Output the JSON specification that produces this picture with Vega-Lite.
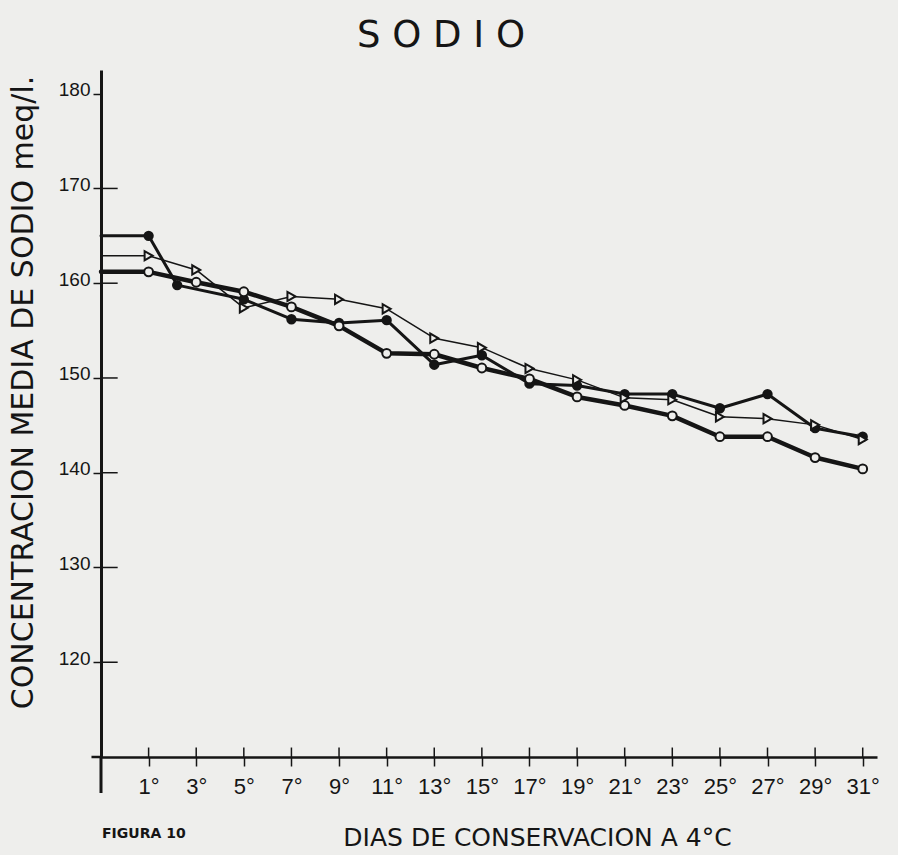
{
  "$schema": "https://vega.github.io/schema/vega-lite/v6.json",
  "width": 776,
  "height": 687,
  "autosize": {"type": "none"},
  "padding": {"left": 101, "top": 70, "right": 21, "bottom": 98},
  "background": "#eeeeec",
  "title": {"text": "S O D I O", "fontSize": 37, "font": "DejaVu Sans", "fontWeight": "normal", "color": "#151515", "anchor": "middle", "frame": "group", "dx": -48, "offset": 15},
  "config": {
    "view": {"stroke": null},
    "axis": {"grid": false, "domainColor": "#151515", "tickColor": "#151515", "labelColor": "#151515", "titleColor": "#151515", "labelOverlap": false}
  },
  "datasets": {
    "series": [
      {"serie": "A", "day": -1, "value": 165},
      {"serie": "A", "day": 1, "value": 165},
      {"serie": "A", "day": 2.2, "value": 159.8},
      {"serie": "A", "day": 5, "value": 158.3},
      {"serie": "A", "day": 7, "value": 156.2},
      {"serie": "A", "day": 9, "value": 155.8},
      {"serie": "A", "day": 11, "value": 156.1},
      {"serie": "A", "day": 13, "value": 151.4},
      {"serie": "A", "day": 15, "value": 152.4},
      {"serie": "A", "day": 17, "value": 149.4},
      {"serie": "A", "day": 19, "value": 149.2},
      {"serie": "A", "day": 21, "value": 148.3},
      {"serie": "A", "day": 23, "value": 148.3},
      {"serie": "A", "day": 25, "value": 146.8},
      {"serie": "A", "day": 27, "value": 148.3},
      {"serie": "A", "day": 29, "value": 144.7},
      {"serie": "A", "day": 31, "value": 143.8},
      {"serie": "B", "day": -1, "value": 161.2},
      {"serie": "B", "day": 1, "value": 161.2},
      {"serie": "B", "day": 3, "value": 160.1},
      {"serie": "B", "day": 5, "value": 159.1},
      {"serie": "B", "day": 7, "value": 157.5},
      {"serie": "B", "day": 9, "value": 155.5},
      {"serie": "B", "day": 11, "value": 152.6},
      {"serie": "B", "day": 13, "value": 152.5},
      {"serie": "B", "day": 15, "value": 151.05},
      {"serie": "B", "day": 17, "value": 149.9},
      {"serie": "B", "day": 19, "value": 148.0},
      {"serie": "B", "day": 21, "value": 147.1},
      {"serie": "B", "day": 23, "value": 146.0},
      {"serie": "B", "day": 25, "value": 143.8},
      {"serie": "B", "day": 27, "value": 143.8},
      {"serie": "B", "day": 29, "value": 141.6},
      {"serie": "B", "day": 31, "value": 140.4},
      {"serie": "C", "day": -1, "value": 162.9},
      {"serie": "C", "day": 1, "value": 162.9},
      {"serie": "C", "day": 3, "value": 161.4},
      {"serie": "C", "day": 5, "value": 157.4},
      {"serie": "C", "day": 7, "value": 158.6},
      {"serie": "C", "day": 9, "value": 158.3},
      {"serie": "C", "day": 11, "value": 157.3},
      {"serie": "C", "day": 13, "value": 154.2},
      {"serie": "C", "day": 15, "value": 153.2},
      {"serie": "C", "day": 17, "value": 151.0},
      {"serie": "C", "day": 19, "value": 149.8},
      {"serie": "C", "day": 21, "value": 147.9},
      {"serie": "C", "day": 23, "value": 147.7},
      {"serie": "C", "day": 25, "value": 145.9},
      {"serie": "C", "day": 27, "value": 145.7},
      {"serie": "C", "day": 29, "value": 145.05},
      {"serie": "C", "day": 31, "value": 143.5}
    ],
    "xticks": [
      {"day": 1}, {"day": 3}, {"day": 5}, {"day": 7}, {"day": 9}, {"day": 11}, {"day": 13}, {"day": 15},
      {"day": 17}, {"day": 19}, {"day": 21}, {"day": 23}, {"day": 25}, {"day": 27}, {"day": 29}, {"day": 31}
    ],
    "yticks": [
      {"value": 120}, {"value": 130}, {"value": 140}, {"value": 150}, {"value": 160}, {"value": 170}
    ]
  },
  "layer": [
    {
      "data": {"name": "series"},
      "transform": [{"filter": "datum.serie === 'C'"}],
      "mark": {"type": "line", "color": "#151515", "strokeWidth": 1.5, "strokeJoin": "round", "strokeCap": "round"},
      "encoding": {
        "x": {
          "field": "day", "type": "quantitative",
          "scale": {"domain": [-1, 31.6], "nice": false, "zero": false},
          "axis": {
            "values": [1, 3, 5, 7, 9, 11, 13, 15, 17, 19, 21, 23, 25, 27, 29, 31],
            "labelExpr": "datum.value + '°'",
            "tickSize": 9, "tickWidth": 1.5, "domainWidth": 2.5,
            "labelFontSize": 22, "labelFont": "Liberation Sans Narrow, Liberation Sans",
            "labelPadding": 10, "labelFlush": false,
            "title": "DIAS DE CONSERVACION A 4°C",
            "titleFontSize": 25, "titleFont": "DejaVu Sans", "titleFontWeight": "normal",
            "titleX": 436, "titleY": 80, "titleAlign": "center", "titleBaseline": "middle"
          }
        },
        "y": {
          "field": "value", "type": "quantitative",
          "scale": {"domain": [110, 182.5], "nice": false, "zero": false},
          "axis": {
            "values": [120, 130, 140, 150, 160, 170, 180],
            "tickSize": 8, "tickWidth": 1.5, "domainWidth": 3,
            "labelFontSize": 19, "labelFont": "Liberation Sans Narrow, Liberation Sans",
            "labelBaseline": "alphabetic", "labelOffset": 2, "labelPadding": 3,
            "title": "CONCENTRACION MEDIA DE SODIO meq/l.",
            "titleFontSize": 30, "titleFont": "DejaVu Sans", "titleFontWeight": "normal",
            "titleX": -78, "titleY": 322, "titleAngle": -90, "titleAlign": "center", "titleBaseline": "middle"
          }
        }
      }
    },
    {
      "data": {"name": "series"},
      "transform": [{"filter": "datum.serie === 'A'"}],
      "mark": {"type": "line", "color": "#151515", "strokeWidth": 3, "strokeJoin": "round", "strokeCap": "round"},
      "encoding": {
        "x": {"field": "day", "type": "quantitative"},
        "y": {"field": "value", "type": "quantitative"}
      }
    },
    {
      "data": {"name": "series"},
      "transform": [{"filter": "datum.serie === 'B'"}],
      "mark": {"type": "line", "color": "#151515", "strokeWidth": 4.5, "strokeJoin": "round", "strokeCap": "round"},
      "encoding": {
        "x": {"field": "day", "type": "quantitative"},
        "y": {"field": "value", "type": "quantitative"}
      }
    },
    {
      "data": {"name": "series"},
      "transform": [{"filter": "datum.day >= 1"}],
      "mark": {"type": "point", "filled": true, "stroke": "#151515", "strokeWidth": 2, "opacity": 1},
      "encoding": {
        "x": {"field": "day", "type": "quantitative"},
        "y": {"field": "value", "type": "quantitative"},
        "shape": {"field": "serie", "type": "nominal", "scale": {"domain": ["A", "B", "C"], "range": ["circle", "circle", "triangle-right"]}, "legend": null},
        "fill": {"field": "serie", "type": "nominal", "scale": {"domain": ["A", "B", "C"], "range": ["#151515", "#eeeeec", "#eeeeec"]}, "legend": null},
        "size": {"field": "serie", "type": "nominal", "scale": {"domain": ["A", "B", "C"], "range": [70, 85, 180]}, "legend": null}
      }
    },
    {
      "data": {"name": "xticks"},
      "mark": {"type": "rule", "color": "#151515", "strokeWidth": 1.5},
      "encoding": {
        "x": {"field": "day", "type": "quantitative"},
        "y": {"datum": 110, "type": "quantitative"},
        "y2": {"datum": 111}
      }
    },
    {
      "data": {"name": "yticks"},
      "mark": {"type": "rule", "color": "#151515", "strokeWidth": 1.5},
      "encoding": {
        "y": {"field": "value", "type": "quantitative"},
        "x": {"datum": -1, "type": "quantitative"},
        "x2": {"datum": -0.3}
      }
    },
    {
      "data": {"values": [{"part": "y"}]},
      "mark": {"type": "rule", "color": "#151515", "strokeWidth": 3},
      "encoding": {
        "x": {"datum": -1, "type": "quantitative"},
        "y": {"datum": 110, "type": "quantitative"},
        "y2": {"datum": 106.2}
      }
    },
    {
      "data": {"values": [{"part": "x"}]},
      "mark": {"type": "rule", "color": "#151515", "strokeWidth": 2.5},
      "encoding": {
        "x": {"datum": -1.4, "type": "quantitative"},
        "x2": {"datum": -1},
        "y": {"datum": 110, "type": "quantitative"}
      }
    },
    {
      "data": {"values": [{"label": "FIGURA 10"}]},
      "mark": {"type": "text", "font": "DejaVu Sans", "fontWeight": "bold", "fontSize": 14, "color": "#151515", "align": "center", "baseline": "middle"},
      "encoding": {
        "x": {"datum": 0.8, "type": "quantitative"},
        "y": {"datum": 101.9, "type": "quantitative"},
        "text": {"field": "label", "type": "nominal"}
      }
    }
  ]
}
